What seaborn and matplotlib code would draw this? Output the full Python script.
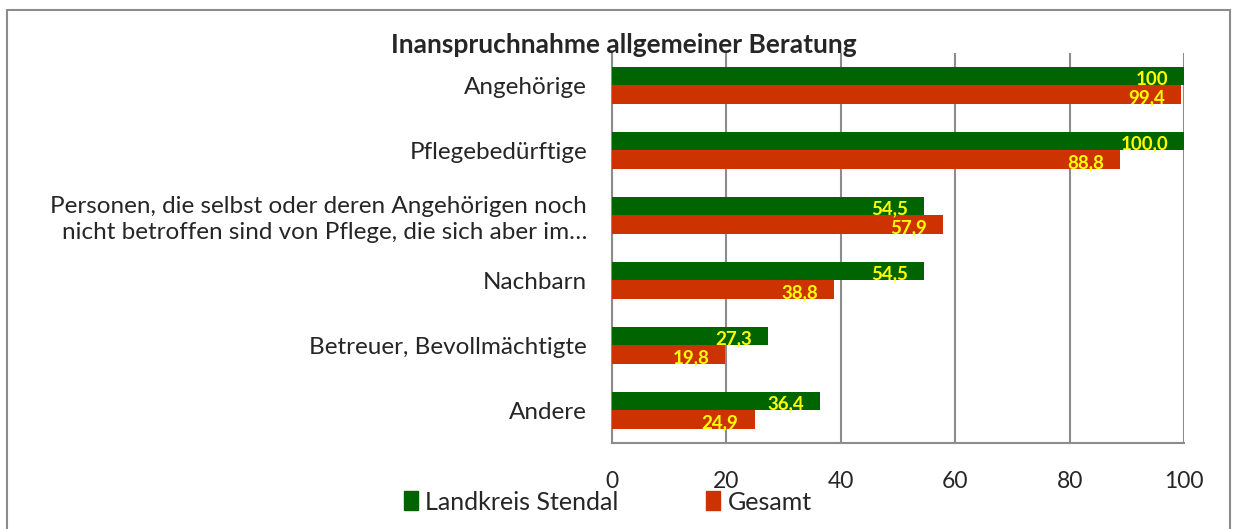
import pandas as pd
import seaborn as sns
import numpy as np
from matplotlib import pyplot as plt
from matplotlib.patches import Rectangle

# Data ----------------------------------------------------------------------------------------

categories = ["Angehörige",
              "Pflegebedürftige",
              "Personen, die selbst oder deren Angehörigen noch\nnicht betroffen sind von Pflege, die sich aber im…",
              "Nachbarn",
              "Betreuer, Bevollmächtigte",
              "Andere"]
series_names = ["Landkreis Stendal", "Gesamt"]
stendal = [100, 100.0, 54.5, 54.5, 27.3, 36.4]
gesamt = [99.4, 88.8, 57.9, 38.8, 19.8, 24.9]
stendal_labels = ["100", "100,0", "54,5", "54,5", "27,3", "36,4"]
gesamt_labels = ["99,4", "88,8", "57,9", "38,8", "19,8", "24,9"]
x_ticks = [0, 20, 40, 60, 80, 100]

df = pd.DataFrame({
    "cat": categories * 2,
    "val": stendal + gesamt,
    "series": [series_names[0]] * 6 + [series_names[1]] * 6,
})

# Plot ----------------------------------------------------------------------------------------

sns.set_style("white")
plt.rcParams["font.family"] = ["Lato", "DejaVu Sans"]

green = "#006400"
red = "#CC3300"
gray = "#8c8c8c"

fig = plt.figure(figsize=(12.39, 5.29), dpi=100)
ax = fig.add_axes([0.494, 0.1626, 0.4617, 0.7374])

sns.barplot(data=df, y="cat", x="val", hue="series", orient="h",
            palette=[green, red], width=0.57, ax=ax, legend=False,
            saturation=1, edgecolor="none", zorder=3)

ax.set_xlim(0, 100)
ax.set_ylim(5.5, -0.5)
ax.set_xticks(x_ticks)
ax.set_xticklabels([str(t) for t in x_ticks], fontsize=16.5)
ax.xaxis.grid(True, color=gray, linewidth=1.5, zorder=0)
ax.set_axisbelow(True)
ax.set_xlabel("")
ax.set_ylabel("")

ax.set_yticks(range(len(categories)))
ax.set_yticklabels(categories, fontsize=17.5, ha="right", linespacing=1.25)
ax.tick_params(axis="y", length=0, pad=18)
ax.set_yticks(np.arange(-0.5, len(categories), 1), minor=True)
ax.tick_params(axis="y", which="minor", length=8, width=1.5, color=gray, direction="out")
ax.tick_params(axis="x", length=8, width=1.5, color=gray, direction="out", pad=12)

for s in ["top", "right"]:
    ax.spines[s].set_visible(False)
for s in ["left", "bottom"]:
    ax.spines[s].set_color(gray)
    ax.spines[s].set_linewidth(1.5)

# value labels inside the bar ends
for cont, labels in zip(ax.containers, [stendal_labels, gesamt_labels]):
    for bar, lab in zip(cont, labels):
        v = bar.get_width()
        yc = bar.get_y() + bar.get_height() / 2
        ax.annotate(lab, xy=(v, yc), xytext=(-16, -3), textcoords="offset pixels",
                    ha="right", va="center", color="#FFFF00",
                    fontsize=13.5, fontweight="bold", zorder=5)

ax.set_title("Inanspruchnahme allgemeiner Beratung", fontsize=19, fontweight="bold",
             x=0.02, pad=0)

# legend
handles = [Rectangle((0, 0), 1, 1, color=c) for c in [green, red]]
fig.legend(handles, series_names, loc="center left", bbox_to_anchor=(0.318, 0.051),
           ncol=2, frameon=False, fontsize=18, handlelength=0.55, handleheight=0.8,
           handletextpad=0.3, columnspacing=3.5, borderaxespad=0)

# outer frame of the chart
fig.patches.append(Rectangle((7 / 1239, -0.1), 1223 / 1239, 1.1 - 10 / 529,
                             transform=fig.transFigure, fill=False,
                             edgecolor=gray, linewidth=1.5))

fig.savefig("out.png", dpi=100)
